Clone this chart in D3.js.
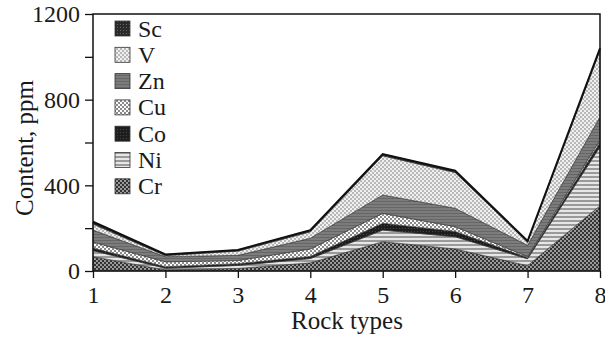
<!DOCTYPE html>
<html><head><meta charset="utf-8">
<script src="https://cdn.jsdelivr.net/npm/d3@7"></script>
<style>
html,body{margin:0;padding:0;background:#fff;}
text{font-family:"Liberation Serif","Times New Roman",serif;}
</style></head>
<body><svg id="c" width="605" height="339"></svg>
<script>
const rockTypes = [1,2,3,4,5,6,7,8];
const Cr = [67, 5, 12, 38, 137, 103, 25, 305];
const Ni = [28, 8, 14, 20, 54, 57, 32, 275];
const Co = [12, 7, 8, 10, 32, 25, 5, 20];
const Cu = [28, 23, 15, 35, 46, 22, 5, 12];
const Zn = [56, 24, 24, 50, 86, 86, 53, 108];
const V  = [28, 5, 20, 30, 183, 167, 15, 310];
const Sc = [11, 5, 5, 8, 8, 8, 5, 10];
const seriesNames = ["Cr","Ni","Co","Cu","Zn","V","Sc"];
const seriesData = {Cr, Ni, Co, Cu, Zn, V, Sc};
const legendOrder = ["Sc","V","Zn","Cu","Co","Ni","Cr"];
const yTicks = [0,200,400,600,800,1000,1200];
const yLabeled = [0,400,800,1200];

const svg = d3.select("#c");
const m = {l:93, r:600, t:14, b:271};
const x = d3.scaleLinear().domain([1,8]).range([m.l, m.r]);
const y = d3.scaleLinear().domain([0,1200]).range([m.b, m.t]);

const defs = svg.append("defs");
function pat(id, w, h, build){
  const p = defs.append("pattern").attr("id",id).attr("patternUnits","userSpaceOnUse").attr("width",w).attr("height",h);
  build(p); return "url(#"+id+")";
}
const fills = {
  Cr: pat("pCr",4,4,p=>{p.append("rect").attr("width",4).attr("height",4).attr("fill","#333");
        p.append("rect").attr("x",0).attr("y",0).attr("width",2).attr("height",2).attr("fill","#9a9a9a");
        p.append("rect").attr("x",2).attr("y",2).attr("width",2).attr("height",2).attr("fill","#9a9a9a");}),
  Ni: pat("pNi",4,4,p=>{p.append("rect").attr("width",4).attr("height",4).attr("fill","#e6e6e6");
        p.append("rect").attr("y",0).attr("width",4).attr("height",2).attr("fill","#9a9a9a");}),
  Co: pat("pCo",3,3,p=>{p.append("rect").attr("width",3).attr("height",3).attr("fill","#1e1e1e");
        p.append("rect").attr("width",1).attr("height",1).attr("fill","#444");}),
  Cu: pat("pCu",4,4,p=>{p.append("rect").attr("width",4).attr("height",4).attr("fill","#fbfbfb");
        p.append("rect").attr("x",0).attr("y",0).attr("width",2).attr("height",2).attr("fill","#8a8a8a");
        p.append("rect").attr("x",2).attr("y",2).attr("width",2).attr("height",2).attr("fill","#8a8a8a");}),
  Zn: pat("pZn",4,3,p=>{p.append("rect").attr("width",4).attr("height",3).attr("fill","#7c7c7c");
        p.append("rect").attr("width",4).attr("height",1).attr("fill","#666");}),
  V:  pat("pV",4,4,p=>{p.append("rect").attr("width",4).attr("height",4).attr("fill","#f0f0f0");
        p.append("rect").attr("x",0).attr("y",0).attr("width",2).attr("height",2).attr("fill","#b8b8b8");
        p.append("rect").attr("x",2).attr("y",2).attr("width",2).attr("height",2).attr("fill","#b8b8b8");}),
  Sc: pat("pSc",3,3,p=>{p.append("rect").attr("width",3).attr("height",3).attr("fill","#2a2a2a");
        p.append("rect").attr("width",1).attr("height",1).attr("fill","#666");})
};

const table = rockTypes.map((r,i)=>{const o={r}; seriesNames.forEach(k=>o[k]=seriesData[k][i]); return o;});
const stacked = d3.stack().keys(seriesNames)(table);
const area = d3.area().x(d=>x(d.data.r)).y0(d=>y(d[0])).y1(d=>y(d[1]));

svg.append("g").selectAll("path").data(stacked).join("path")
  .attr("d",area).attr("fill",d=>fills[d.key]).attr("stroke","#333").attr("stroke-width",0.6);

// top outline
const topLayer = stacked[stacked.length-1];
svg.append("path").attr("d", d3.line().x(d=>x(d.data.r)).y(d=>y(d[1]))(topLayer))
  .attr("fill","none").attr("stroke","#111").attr("stroke-width",2);

// frame
svg.append("rect").attr("x",m.l).attr("y",m.t).attr("width",m.r-m.l).attr("height",m.b-m.t)
  .attr("fill","none").attr("stroke","#111").attr("stroke-width",1.5);

// axes
const ax = svg.append("g").attr("transform",`translate(0,${m.b})`)
  .call(d3.axisBottom(x).tickValues(rockTypes).tickFormat(d3.format("d")).tickSize(7).tickPadding(8));
const ay = svg.append("g").attr("transform",`translate(${m.l},0)`)
  .call(d3.axisLeft(y).tickValues(yTicks).tickFormat(d=>yLabeled.includes(d)?d:"").tickSize(8).tickPadding(5));
[ax,ay].forEach(g=>{g.select(".domain").remove();
  g.selectAll("line").attr("stroke","#111").attr("stroke-width",1.3);
  g.selectAll("text").attr("font-size",24).attr("fill","#1a1a1a").attr("font-family","Liberation Serif, serif");});

svg.append("text").attr("x",347).attr("y",329).attr("text-anchor","middle").attr("font-size",25).attr("fill","#1a1a1a").text("Rock types");
svg.append("text").attr("transform","translate(33,148) rotate(-90)").attr("text-anchor","middle").attr("font-size",25).attr("fill","#1a1a1a").text("Content, ppm");

// legend
const lg = svg.append("g");
legendOrder.forEach((k,i)=>{
  const yy = 21 + i*26.3;
  lg.append("rect").attr("x",115).attr("y",yy).attr("width",15).attr("height",15)
    .attr("fill",fills[k]).attr("stroke","#333").attr("stroke-width",0.8);
  lg.append("text").attr("x",138).attr("y",yy+15.5).attr("font-size",24).attr("fill","#1a1a1a").text(k);
});
</script></body></html>
